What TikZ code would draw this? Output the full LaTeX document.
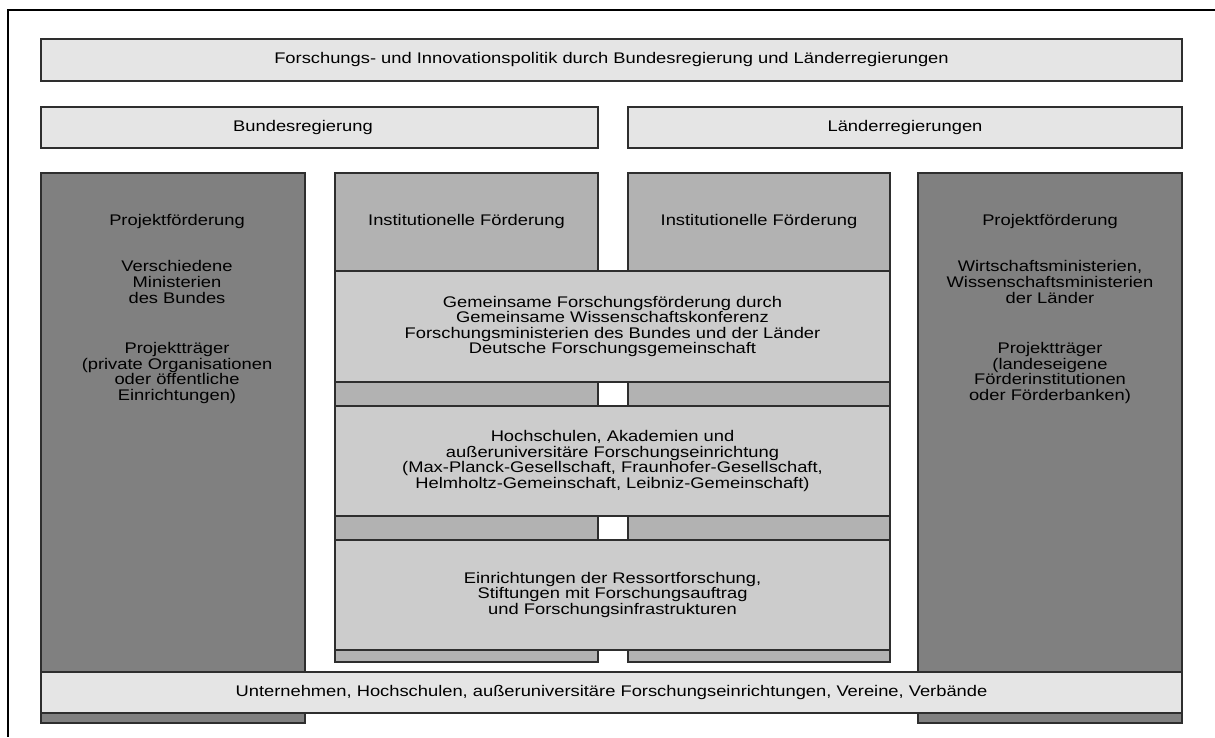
\documentclass[tikz,border=0pt]{standalone}
\usepackage{fontspec}
\setmainfont{Liberation Sans}[FakeStretch=1.19]
\usetikzlibrary{shadows}
\definecolor{pfgray}{gray}{0.50}
\definecolor{ifgray}{gray}{0.70}
\definecolor{blockgray}{gray}{0.80}
\definecolor{bargray}{gray}{0.90}
\definecolor{edgegray}{gray}{0.18}
\begin{document}
\begin{tikzpicture}[x=1pt, y=-1pt,
  font=\fontsize{15.4}{15.6}\selectfont,
  panel/.style={draw=edgegray, line width=1.2pt, rectangle, inner sep=0pt, outer sep=0pt,
    drop shadow={shadow xshift=1.2pt, shadow yshift=-1.2pt, fill=black, opacity=0.35}},
  bar/.style={panel, fill=bargray},
  pfcol/.style={panel, fill=pfgray},
  ifcol/.style={panel, fill=ifgray},
  block/.style={panel, fill=blockgray, align=center},
  label/.style={inner sep=0pt, align=center},
  frameline/.style={line width=2.4pt, black}]

\useasboundingbox (0,0) rectangle (1215,737);

% outer frame: top and left edge
\coordinate (frameTR) at (1215,10);
\coordinate (frameTL) at (8,10);
\coordinate (frameBL) at (8,737);
\draw[frameline] (frameTR) -- (frameTL) -- (frameBL);

% government level
\node[bar, minimum width=1141pt, minimum height=42pt] (policy) at (611.5,60)
  {Forschungs- und Innovationspolitik durch Bundesregierung und Länderregierungen};
\node[bar, minimum width=557pt, minimum height=41pt] (bund) at (319.5,127.5) {};
\node[label] (bundText) at (303,127.5) {Bundesregierung};
\node[bar, minimum width=554pt, minimum height=41pt] (laender) at (905,127.5) {Länderregierungen};

% project funding columns
\node[pfcol, minimum width=264pt, minimum height=550pt] (pfBund) at (173,448) {};
\node[pfcol, minimum width=264pt, minimum height=550pt] (pfLand) at (1050,448) {};

% institutional funding columns
\node[ifcol, minimum width=263pt, minimum height=489pt] (ifBund) at (466.5,417.5) {};
\node[ifcol, minimum width=262pt, minimum height=489pt] (ifLand) at (759,417.5) {};

% joint blocks across both institutional columns
\node[block, minimum width=555pt, minimum height=111pt] (gwk) at (612.5,326.5)
  {Gemeinsame Forschungsförderung durch\\Gemeinsame Wissenschaftskonferenz\\Forschungsministerien des Bundes und der Länder\\Deutsche Forschungsgemeinschaft};
\node[block, minimum width=555pt, minimum height=110pt] (hochschulen) at (612.5,461)
  {Hochschulen, Akademien und\\außeruniversitäre Forschungseinrichtung\\(Max-Planck-Gesellschaft, Fraunhofer-Gesellschaft,\\Helmholtz-Gemeinschaft, Leibniz-Gemeinschaft)};
\node[block, minimum width=555pt, minimum height=110pt] (ressort) at (612.5,595)
  {Einrichtungen der Ressortforschung,\\Stiftungen mit Forschungsauftrag\\und Forschungsinfrastrukturen};

% recipients
\node[bar, minimum width=1141pt, minimum height=41pt] (empf) at (611.5,692.5)
  {Unternehmen, Hochschulen, außeruniversitäre Forschungseinrichtungen, Vereine, Verbände};

% column headings
\node[label] (pfBundTitle) at (177,222) {Projektförderung};
\node[label] (ifBundTitle) at (466.5,222) {Institutionelle Förderung};
\node[label] (ifLandTitle) at (759,222) {Institutionelle Förderung};
\node[label] (pfLandTitle) at (1050,222) {Projektförderung};

% column contents
\node[label] (pfBundMin) at (177,282) {Verschiedene\\Ministerien\\des Bundes};
\node[label] (pfBundPT) at (177,373) {Projektträger\\(private Organisationen\\oder öffentliche\\Einrichtungen)};
\node[label] (pfLandMin) at (1050,282) {Wirtschaftsministerien,\\Wissenschaftsministerien\\der Länder};
\node[label] (pfLandPT) at (1050,373) {Projektträger\\(landeseigene\\Förderinstitutionen\\oder Förderbanken)};

\end{tikzpicture}
\end{document}
